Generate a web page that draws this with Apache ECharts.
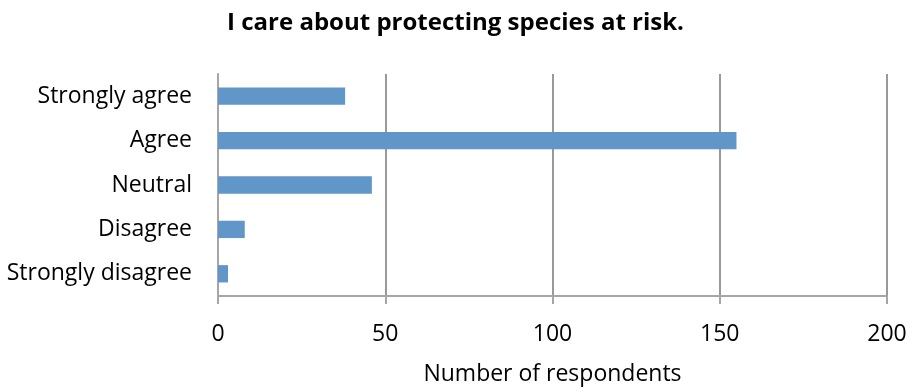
<!DOCTYPE html>
<html>
<head>
<meta charset="utf-8">
<script src="https://cdn.jsdelivr.net/npm/echarts@6/dist/echarts.min.js"></script>
<style>
  html, body { margin: 0; padding: 0; background: #ffffff; }
  #chart { width: 911px; height: 391px; }
</style>
</head>
<body>
<div id="chart"></div>
<script>
// Survey responses, top to bottom
const categories = ['Strongly agree', 'Agree', 'Neutral', 'Disagree', 'Strongly disagree'];
const respondents = [38, 155, 46, 8, 3];
const xTicks = { min: 0, max: 200, interval: 50 };

const FONT = '"Open Sans", sans-serif';
const chart = echarts.init(document.getElementById('chart'));

chart.setOption({
  animation: false,
  backgroundColor: '#ffffff',
  title: {
    text: 'I care about protecting species at risk.',
    left: 'center',
    top: 6,
    textStyle: { fontFamily: FONT, fontSize: 24, fontWeight: 'bold', color: '#000000' }
  },
  grid: { left: 218, right: 24, top: 74, bottom: 92, containLabel: false },
  xAxis: {
    type: 'value',
    min: xTicks.min,
    max: xTicks.max,
    interval: xTicks.interval,
    name: 'Number of respondents',
    nameLocation: 'middle',
    nameGap: 67,
    nameTextStyle: { fontFamily: FONT, fontSize: 23, color: '#000000' },
    axisLine: { show: true, lineStyle: { color: '#a6a6a6', width: 2 } },
    axisTick: { show: true, length: 8, lineStyle: { color: '#a6a6a6', width: 2 } },
    axisLabel: { fontFamily: FONT, fontSize: 23, color: '#000000', margin: 27 },
    splitLine: { show: true, lineStyle: { color: '#999999', width: 2 } }
  },
  yAxis: {
    type: 'category',
    data: categories,
    inverse: true,
    axisLine: { show: true, lineStyle: { color: '#a6a6a6', width: 2 } },
    axisTick: { show: false },
    axisLabel: { fontFamily: FONT, fontSize: 23, color: '#000000', margin: 26, padding: [8, 0, 0, 0] }
  },
  series: [{
    type: 'bar',
    data: respondents,
    barWidth: '39%',
    itemStyle: { color: '#6096c8' }
  }]
});
</script>
</body>
</html>
